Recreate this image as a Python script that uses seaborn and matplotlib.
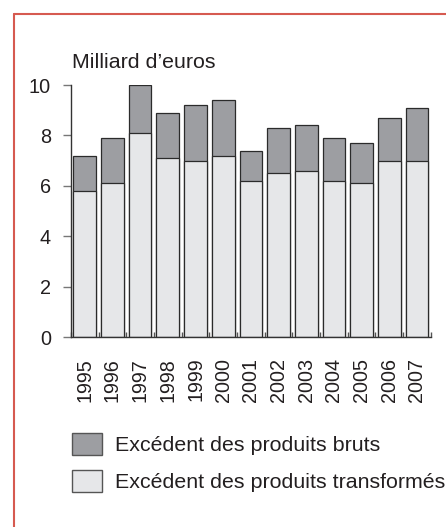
import numpy as np
import pandas as pd
import matplotlib
matplotlib.use('Agg')
import matplotlib.pyplot as plt
import seaborn as sns
from matplotlib.patches import Patch
from matplotlib.lines import Line2D

# Data (billion euros)
years = ['1995', '1996', '1997', '1998', '1999', '2000', '2001',
         '2002', '2003', '2004', '2005', '2006', '2007']
transformes = [5.8, 6.1, 8.1, 7.1, 7.0, 7.2, 6.2, 6.5, 6.6, 6.2, 6.1, 7.0, 7.0]
bruts = [1.4, 1.8, 1.9, 1.8, 2.2, 2.2, 1.2, 1.8, 1.8, 1.7, 1.6, 1.7, 2.1]
y_ticks = [0, 2, 4, 6, 8, 10]

dark = '#9d9ea2'
light = '#e6e7e9'
edge = '#2b2b2b'
frame_red = '#d65a50'
txt = '#231f20'

sns.set_theme(style='ticks')
plt.rcParams['font.family'] = ['Liberation Sans', 'DejaVu Sans']

df = pd.DataFrame({'year': years, 'transformes': transformes, 'bruts': bruts})
df['total'] = df['transformes'] + df['bruts']

fig = plt.figure(figsize=(4.46, 5.27), dpi=100)
ax = fig.add_axes([0.159, 0.3605, 0.807, 0.4782])

sns.barplot(data=df, x='year', y='total', color=dark, saturation=1,
            width=0.82, edgecolor=edge, linewidth=0.9, ax=ax)
sns.barplot(data=df, x='year', y='transformes', color=light, saturation=1,
            width=0.82, edgecolor=edge, linewidth=0.9, ax=ax)

ax.set_xlim(-0.5, len(years) - 0.5)
ax.set_ylim(0, 10)
ax.set_yticks(y_ticks)
ax.set_xlabel('')
ax.set_ylabel('')
sns.despine(ax=ax)
for s in ['left', 'bottom']:
    ax.spines[s].set_color('#333333')
    ax.spines[s].set_linewidth(1.0)

ax.tick_params(axis='y', length=6, width=1, color='#777777', pad=8.5,
               labelsize=14.3, labelcolor=txt)
ax.tick_params(axis='x', which='major', length=0, pad=15, labelsize=14.2,
               labelcolor=txt, labelrotation=90)
ax.set_xticks(np.arange(-0.5, len(years)), minor=True)
ax.tick_params(axis='x', which='minor', direction='in', length=3.5,
               width=1, color='#555555')

ax.text(0.003, 10.69, 'Milliard d\u2019euros', fontsize=15.4, color=txt,
        ha='left', va='baseline', transform=ax.get_yaxis_transform())

handles = [Patch(facecolor=dark, edgecolor='#555555', linewidth=1),
           Patch(facecolor=light, edgecolor='#555555', linewidth=1)]
labels = ['Excédent des produits bruts', 'Excédent des produits transformés']
fig.legend(handles, labels, loc='upper left', bbox_to_anchor=(0.162, 0.179),
           frameon=False, fontsize=15.4, handlelength=1.4, handleheight=1.2,
           handletextpad=0.6, labelspacing=0.72, borderaxespad=0,
           borderpad=0, labelcolor=txt)

# red frame (top and left edges)
fig.add_artist(Line2D([14 / 446, 1.0], [1 - 14 / 527, 1 - 14 / 527],
                      transform=fig.transFigure, color=frame_red, lw=1.5))
fig.add_artist(Line2D([14 / 446, 14 / 446], [0.0, 1 - 14 / 527],
                      transform=fig.transFigure, color=frame_red, lw=1.5))

fig.savefig('out.png', dpi=100)
